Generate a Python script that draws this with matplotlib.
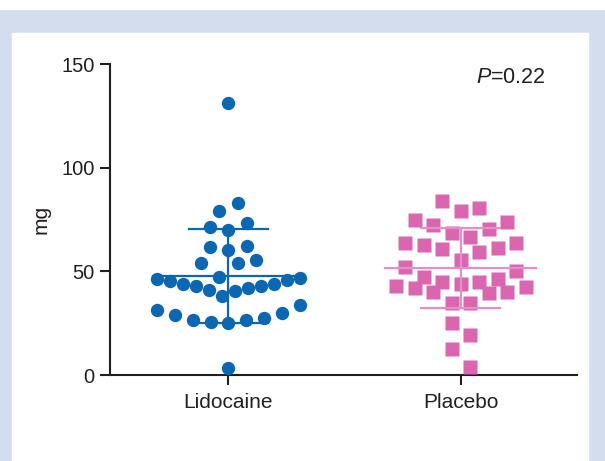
import numpy as np
import matplotlib
matplotlib.use('Agg')
import matplotlib.pyplot as plt
from matplotlib.patches import Rectangle

plt.rcParams['font.family'] = ['Liberation Sans', 'DejaVu Sans']
plt.rcParams['mathtext.fontset'] = 'custom'
plt.rcParams['mathtext.rm'] = 'Liberation Sans'
plt.rcParams['mathtext.it'] = 'Liberation Sans:italic'

# values (mg)
groups = ['Lidocaine', 'Placebo']
lidocaine = [3.5, 25.2, 25.7, 26.4, 26.5, 27.6, 28.8, 29.7, 31.4, 33.8,
             38.0, 40.7, 41.0, 42.1, 42.8, 42.9, 44.1, 44.1, 45.3, 45.8, 46.5, 46.6,
             47.4, 53.9, 53.9, 55.5, 60.3, 61.9, 62.4, 69.9, 71.5, 73.2,
             79.1, 82.8, 131.2]
placebo = [4.0, 12.6, 19.2, 24.9, 34.6, 34.6, 39.4, 39.9, 39.9, 41.8, 42.3, 43.0,
           43.9, 44.7, 44.7, 46.3, 47.1, 50.2, 51.9, 55.3, 59.2, 60.6, 61.1, 62.6,
           63.5, 63.5, 66.4, 68.4, 70.3, 72.2, 73.7, 74.6, 79.0, 80.4, 83.8]
means = [47.8, 51.5]
sds = [22.5, 19.3]
p_text = r'$\it{P}$=0.22'

ink = '#231f20'
blue = '#0b67b2'
pink = '#d966af'
pink_line = '#e58fc6'


def swarm_offsets(vals, band=8.8, step=0.0797, max_w=0.613, first=-1):
    # prism-like rows: greedy bands, points spread out alternately from the middle
    vals = np.asarray(vals, dtype=float)
    order = np.argsort(vals, kind='stable')
    offs = np.zeros(len(vals))
    i = 0
    while i < len(order):
        j = i
        while j < len(order) and vals[order[j]] <= vals[order[i]] + band:
            j += 1
        idx = order[i:j]
        n = len(idx)
        sp = step if n < 2 else min(step, max_w / (n - 1))
        for k, p in enumerate(idx):
            if n % 2:
                slot = 0 if k == 0 else ((k + 1) // 2) * (first if k % 2 else -first)
            else:
                slot = (k // 2 + 0.5) * (first if k % 2 == 0 else -first)
            offs[p] = slot * sp
        i = j
    return offs


fig = plt.figure(figsize=(6.05, 4.61), dpi=100, facecolor='#d4ddee')
fig.add_artist(Rectangle((12 / 605, 0), 576 / 605, 428 / 461,
                         transform=fig.transFigure, color='white', zorder=-10))
fig.add_artist(Rectangle((0, 452 / 461), 1, 9 / 461,
                         transform=fig.transFigure, color='white', zorder=-10))

ax = fig.add_axes([110 / 605, 86 / 461, 467 / 605, 311 / 461])
ax.set_facecolor('none')

lx = 0 + swarm_offsets(lidocaine, first=-1)
px = 1 + swarm_offsets(placebo, first=1)
ax.plot(lx, lidocaine, 'o', ms=9.6, color=blue, mec='none', clip_on=False, zorder=3)
ax.plot(px, placebo, 's', ms=9.4, color=pink, mec='none', clip_on=False, zorder=3)

for i, (m, s, c) in enumerate(zip(means, sds, [blue, pink_line])):
    ax.plot([i - 0.325, i + 0.325], [m, m], color=c, lw=1.6, zorder=4)
    ax.plot([i, i], [m - s, m + s], color=c, lw=1.6, zorder=4)
    for yy in (m - s, m + s):
        ax.plot([i - 0.17, i + 0.17], [yy, yy], color=c, lw=1.6, zorder=4)

ax.set_xlim(-0.51, 1.50)
ax.set_ylim(0, 150)
ax.set_xticks([0, 1])
ax.set_xticklabels(groups)
ax.set_yticks([0, 50, 100, 150])
ax.set_ylabel('mg', fontsize=15, color=ink, labelpad=8)

for side in ['top', 'right']:
    ax.spines[side].set_visible(False)
for side in ['left', 'bottom']:
    ax.spines[side].set_linewidth(1.5)
    ax.spines[side].set_color(ink)
ax.tick_params(width=1.5, length=7, color=ink, labelcolor=ink)
ax.tick_params(axis='y', labelsize=14.5, pad=4)
ax.tick_params(axis='x', labelsize=15, pad=6)

ax.text(1.365, 143.5, p_text, ha='right', va='center', fontsize=15.5, color=ink)

fig.savefig('out.png', dpi=100, facecolor=fig.get_facecolor())
